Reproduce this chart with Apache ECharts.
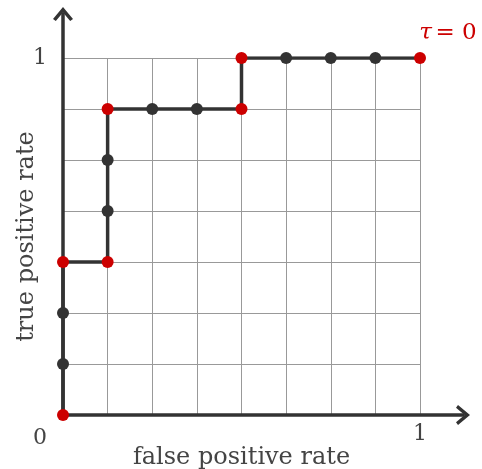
<!DOCTYPE html>
<html>
<head>
<meta charset="utf-8">
<script src="https://cdn.jsdelivr.net/npm/echarts@6/dist/echarts.min.js"></script>
<style>
html,body{margin:0;padding:0;background:#fff;}
#chart{width:482px;height:469px;}
</style>
</head>
<body>
<div id="chart"></div>
<script>
// ROC steps, counted in false positives (of 8) and true positives (of 7)
const fpCount = [0, 0, 0, 0, 1, 1, 1, 1, 2, 3, 4, 4, 5, 6, 7, 8]
const tpCount = [0, 1, 2, 3, 3, 4, 5, 6, 6, 6, 6, 7, 7, 7, 7, 7]
// thresholds that are marked red
const redIdx = [0, 3, 4, 7, 10, 11, 15]
const fpTotal = 8
const tpTotal = 7
const xLabels = ['0', '1']
const yLabels = ['0', '1']
const endLabel = '= 0'

const font = 'DejaVu Serif'
const ink = '#333'
const red = '#cc0000'
const chevron = 'path://M0,12 L10,0 L20,12 L17.2,14 L10,5.4 L2.8,14 Z'

let pts = fpCount.map((x, i) => {
    let isRed = redIdx.includes(i)
    let p = {
        value: [x, tpCount[i]],
        itemStyle: { color: isRed ? red : ink }
    }
    if (i === fpCount.length - 1) {
        p.label = {
            show: true,
            position: 'top',
            offset: [28, -2],
            formatter: '{t|τ} {n|' + endLabel + '}',
            rich: {
                t: { fontFamily: font, fontStyle: 'italic', fontSize: 23, color: red },
                n: { fontFamily: font, fontSize: 23, color: red }
            }
        }
    }
    return p
})

let myChart = echarts.init(document.getElementById('chart'))
let option = {
    animation: false,
    grid: [
        { left: 63, top: 58, width: 357, height: 357, outerBoundsMode: 'none', containLabel: false },
        { left: 63, top: 14, right: 19, bottom: 54, outerBoundsMode: 'none', containLabel: false }
    ],
    xAxis: [
        {
            gridIndex: 0, type: 'value', min: 0, max: fpTotal, interval: 1,
            axisLine: { show: false },
            axisTick: { show: false },
            splitLine: { lineStyle: { color: '#999', width: 1 } },
            axisLabel: {
                fontFamily: font, fontSize: 22, color: '#444', margin: 8,
                formatter: v => v === fpTotal ? xLabels[1] : ''
            },
            name: 'false positive rate',
            nameLocation: 'middle',
            nameGap: 31,
            nameMoveOverlap: false,
            nameTextStyle: { fontFamily: font, fontSize: 24, color: '#444' }
        },
        {
            gridIndex: 1, type: 'value', min: 0, max: 1,
            axisLine: { show: true, symbol: ['none', chevron], symbolSize: [22, 14],
                lineStyle: { color: ink, width: 3.5 } },
            axisTick: { show: false }, axisLabel: { show: false }, splitLine: { show: false }
        }
    ],
    yAxis: [
        {
            gridIndex: 0, type: 'value', min: 0, max: tpTotal, interval: 1,
            axisLine: { show: false },
            axisTick: { show: false },
            splitLine: { lineStyle: { color: '#999', width: 1 } },
            axisLabel: {
                fontFamily: font, fontSize: 22, color: '#444', margin: 16,
                formatter: v => v === tpTotal ? yLabels[1] : ''
            },
            name: 'true positive rate',
            nameLocation: 'middle',
            nameGap: 24,
            nameMoveOverlap: false,
            nameTextStyle: { fontFamily: font, fontSize: 24, color: '#444' }
        },
        {
            gridIndex: 1, type: 'value', min: 0, max: 1,
            axisLine: { show: true, symbol: ['none', chevron], symbolSize: [22, 14],
                lineStyle: { color: ink, width: 3.5 } },
            axisTick: { show: false }, axisLabel: { show: false }, splitLine: { show: false }
        }
    ],
    graphic: [
        { type: 'text', left: 33, top: 427, style: { text: xLabels[0], font: '22px "' + font + '"', fill: '#444' } }
    ],
    series: [
        {
            type: 'line',
            xAxisIndex: 0, yAxisIndex: 0,
            data: pts,
            symbol: 'circle',
            symbolSize: 12,
            lineStyle: { color: ink, width: 3.5 },
            z: 5
        }
    ]
}
myChart.setOption(option)
</script>
</body>
</html>
